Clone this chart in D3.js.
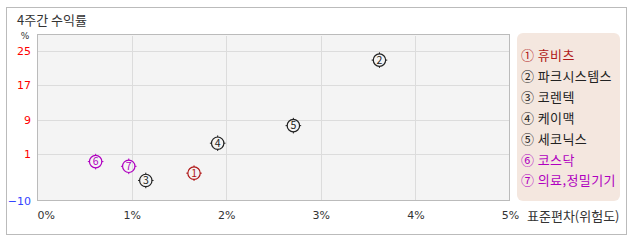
<!DOCTYPE html>
<html>
<head>
<meta charset="utf-8">
<script src="https://cdn.jsdelivr.net/npm/d3@7"></script>
<style>
  body { margin: 0; background: #fff; }
  text { font-family: "Noto Sans CJK KR", "Noto Sans", sans-serif; }
</style>
</head>
<body>
<div id="chart"></div>
<script>
// data
const names = ["휴비츠", "파크시스템스", "코렌텍", "케이맥", "세코닉스", "코스닥", "의료,정밀기기"]
const marks = ["①", "②", "③", "④", "⑤", "⑥", "⑦"]
const stdDev = [1.66, 3.62, 1.15, 1.91, 2.71, 0.62, 0.97]
const returns4w = [-3.5, 22.9, -5.2, 3.5, 7.6, -0.8, -1.9]
const colors = ["#b01818", "#222", "#222", "#222", "#222", "#b000c0", "#b000c0"]
const yTicks = [-10, 1, 9, 17, 25]
const xTicks = [0, 1, 2, 3, 4, 5]

const width = 638
const height = 242
const margin = {top: 34, bottom: 41, left: 37, right: 128}

const svg = d3.select("div#chart").append("svg").attr("width", width).attr("height", height)

// outer frame
svg.append("rect").attr("x", 6.5).attr("y", 7.5).attr("width", 620).attr("height", 227)
    .attr("fill", "#fff").attr("stroke", "#bbb")

svg.append("text").text("4주간 수익률")
    .attr("x", 17).attr("y", 25)
    .style("font-size", "13px").attr("fill", "#333")

const x = d3.scaleLinear().domain([0, 5]).range([margin.left, width - margin.right])
const y = d3.scaleLinear().domain([-10, 29]).range([height - margin.bottom, margin.top])

// plot bg
svg.append("rect")
    .attr("x", x(0)).attr("y", y(29))
    .attr("width", x(5) - x(0)).attr("height", y(-10) - y(29))
    .attr("fill", "#f4f4f4")

const grid = svg.append("g").attr("id", "grid")
grid.selectAll("line.h").data(yTicks.slice(1)).enter().append("line")
    .attr("x1", x(0)).attr("x2", x(5))
    .attr("y1", d => Math.round(y(d)) + 0.5).attr("y2", d => Math.round(y(d)) + 0.5)
    .attr("stroke", "#dcdcdc")
grid.selectAll("line.v").data(xTicks.slice(1, -1)).enter().append("line")
    .attr("x1", d => Math.round(x(d)) + 0.5).attr("x2", d => Math.round(x(d)) + 0.5)
    .attr("y1", y(29) + 2).attr("y2", y(-10))
    .attr("stroke", "#dcdcdc")

// plot border
svg.append("rect")
    .attr("x", x(0) + 0.5).attr("y", y(29) + 0.5)
    .attr("width", x(5) - x(0) - 1).attr("height", y(-10) - y(29) - 1)
    .attr("fill", "none").attr("stroke", "#bbb")

// y axis labels
const yAxisGroup = svg.append("g").attr("transform", `translate(${x(0) - 6}, 0)`)
yAxisGroup.call(d3.axisLeft(y).tickValues(yTicks).tickSize(0).tickPadding(0))
yAxisGroup.select(".domain").remove()
yAxisGroup.selectAll("text")
    .style("font-size", "11px")
    .style("font-family", "'DejaVu Sans', sans-serif")
    .attr("fill", d => d < 0 ? "#3344ff" : "#ff0000")
svg.append("text").text("%")
    .attr("x", 25).attr("y", 39).attr("text-anchor", "middle")
    .style("font-size", "9px")
    .style("font-family", "'DejaVu Sans', sans-serif")
    .attr("fill", "#333")

// x axis labels
const xAxisGroup = svg.append("g").attr("transform", `translate(0, ${y(-10) + 10})`)
xAxisGroup.call(d3.axisBottom(x).tickValues(xTicks).tickSize(0).tickPadding(0).tickFormat(d => d + "%"))
xAxisGroup.select(".domain").remove()
xAxisGroup.selectAll("text")
    .style("font-size", "11px")
    .style("font-family", "'DejaVu Sans', sans-serif")
    .attr("fill", "#333")
    .attr("text-anchor", d => d === 0 ? "start" : "middle")
svg.append("text").text("표준편차(위험도)")
    .attr("x", 527).attr("y", 221)
    .style("font-size", "13px").attr("fill", "#333")

// points
const data = names.map((n, i) => ({name: n, mark: marks[i], num: i + 1, sd: stdDev[i], ret: returns4w[i], color: colors[i]}))
const pts = svg.append("g").attr("id", "points").selectAll("g").data(data).enter().append("g")
    .attr("transform", d => `translate(${x(d.sd)}, ${y(d.ret)})`)
pts.append("circle").attr("r", 6.2)
    .attr("fill", "none").attr("stroke", d => d.color).attr("stroke-width", 1.2)
pts.each(function(d) {
    const g = d3.select(this)
    ;[[0, -6, 0, -7.8], [0, 6, 0, 7.8], [-6, 0, -7.8, 0], [6, 0, 7.8, 0]].forEach(s => {
        g.append("line").attr("x1", s[0]).attr("y1", s[1]).attr("x2", s[2]).attr("y2", s[3])
            .attr("stroke", d.color).attr("stroke-width", 1)
    })
})
pts.append("text").text(d => d.num)
    .attr("text-anchor", "middle").attr("dy", "0.36em")
    .style("font-size", "10.5px").attr("fill", d => d.color)

// legend
const legend = svg.append("g").attr("id", "legend")
legend.append("rect").attr("x", 517).attr("y", 33).attr("width", 103).attr("height", 168)
    .attr("rx", 6).attr("fill", "#f4e7df")
legend.selectAll("text").data(data).enter().append("text")
    .text(d => d.mark + " " + d.name)
    .attr("x", 521).attr("y", (d, i) => 60 + i * 20.9)
    .style("font-size", "13px").style("letter-spacing", "0.4px").attr("fill", d => d.color)
</script>
</body>
</html>
